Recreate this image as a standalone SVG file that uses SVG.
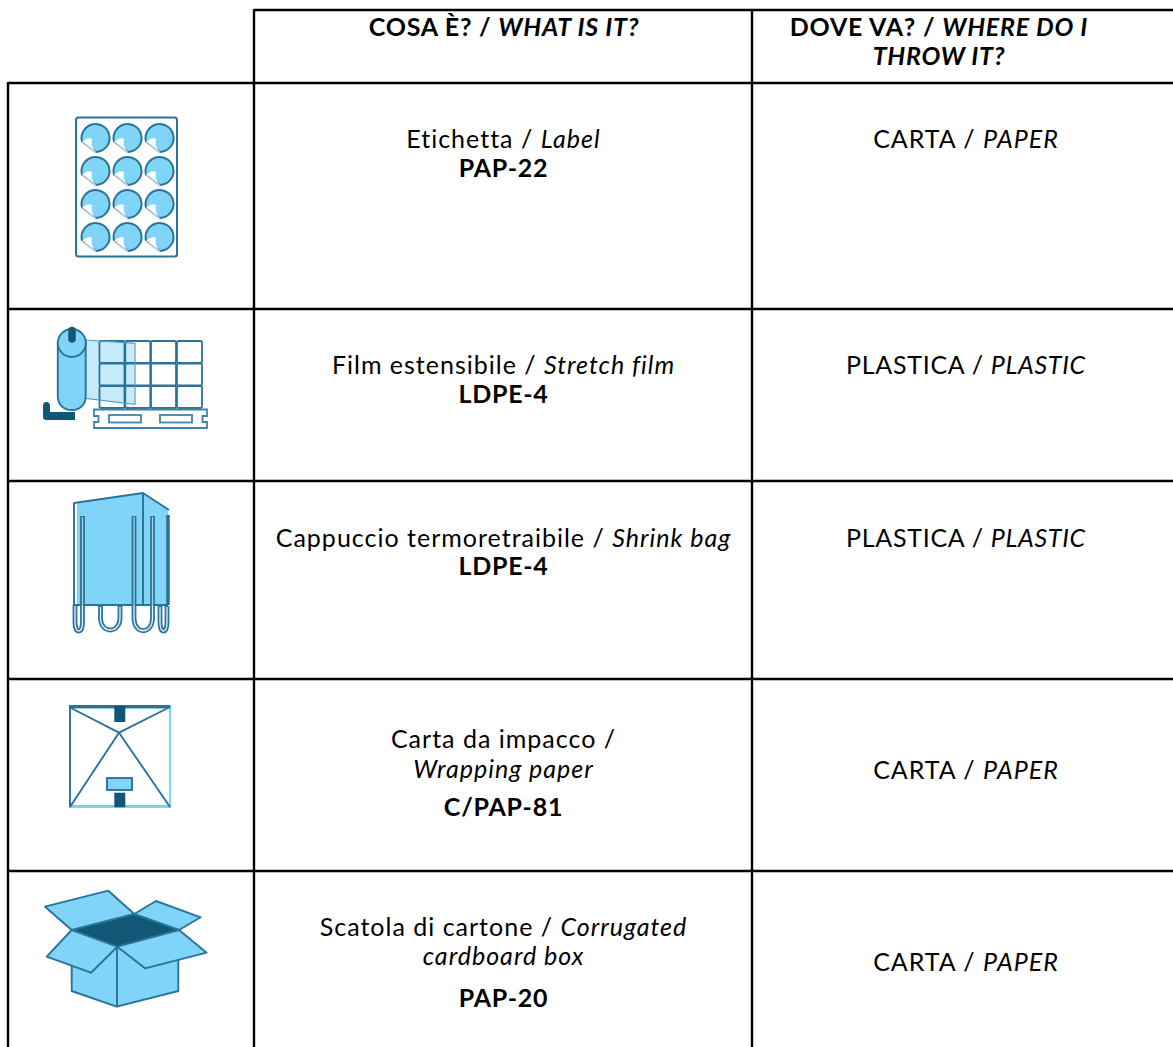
<svg xmlns="http://www.w3.org/2000/svg" xmlns:xlink="http://www.w3.org/1999/xlink" width="1173" height="1047" viewBox="0 0 1173 1047">
<style>
text{font-family:"Lato","Liberation Sans",sans-serif;font-size:25px;fill:#000;text-anchor:middle;letter-spacing:1px}
.b{font-weight:700;letter-spacing:.75px}
.i{font-style:italic}
.p{letter-spacing:.7px}
.grid{stroke:#000;stroke-width:2.4;fill:none}
.o{stroke:#2a7399;stroke-width:1.9;stroke-linejoin:round;fill:#7fd4f8}
.d{fill:#135777}
</style>
<defs>
<g id="sticker">
<path d="M-13,3.500A14,14 0 1 1 1,14 Z" fill="#7fd4f8" stroke="#2a7399" stroke-width="2"/>
<path d="M-13,3.500Q-6,-1.500 -3,1Q-5,8 1,14.500Z" fill="#fff"/>
<path d="M-13,3.500L1,14.500" stroke="#b4cddb" stroke-width="1.400"/>
</g>
<rect id="cell" width="25" height="22" rx="1.500" fill="none" stroke="#2a7399" stroke-width="1.800"/>
</defs>
<rect width="1173" height="1047" fill="#fff"/>
<g id="connectors" class="grid">
<path d="M254,10H1173M8,83H1173M8,309H1173M8,481H1173M8,679H1173M8,871H1173"/>
<path d="M8,82V1047M254,9V1047M752,9V1047"/>
</g>
<g id="header">
<text x="504" y="36" class="b">COSA È? / <tspan class="i">WHAT IS IT?</tspan></text>
<text x="939" y="36" class="b">DOVE VA? / <tspan class="i">WHERE DO I</tspan></text>
<text x="939" y="65" class="b i">THROW IT?</text>
</g>
<g id="icon-label">
<rect x="76" y="117.500" width="101" height="139" rx="2.500" fill="#fff" stroke="#2a7399" stroke-width="2"/>
<use xlink:href="#sticker" x="95" y="138"/><use xlink:href="#sticker" x="127" y="138"/><use xlink:href="#sticker" x="159" y="138"/>
<use xlink:href="#sticker" x="95" y="171"/><use xlink:href="#sticker" x="127" y="171"/><use xlink:href="#sticker" x="159" y="171"/>
<use xlink:href="#sticker" x="95" y="204"/><use xlink:href="#sticker" x="127" y="204"/><use xlink:href="#sticker" x="159" y="204"/>
<use xlink:href="#sticker" x="95" y="237"/><use xlink:href="#sticker" x="127" y="237"/><use xlink:href="#sticker" x="159" y="237"/>
</g>
<g id="icon-film">
<path d="M85.700,340L135,343.300V404.300L85.700,398.300Z" fill="#c5ebfc"/>
<use xlink:href="#cell" x="99.500" y="341"/><use xlink:href="#cell" x="125.300" y="341"/><use xlink:href="#cell" x="151" y="341"/><use xlink:href="#cell" x="177" y="341"/>
<use xlink:href="#cell" x="99.500" y="363.500"/><use xlink:href="#cell" x="125.300" y="363.500"/><use xlink:href="#cell" x="151" y="363.500"/><use xlink:href="#cell" x="177" y="363.500"/>
<use xlink:href="#cell" x="99.500" y="386"/><use xlink:href="#cell" x="125.300" y="386"/><use xlink:href="#cell" x="151" y="386"/><use xlink:href="#cell" x="177" y="386"/>
<path d="M85.700,340L135,343.300V404.300L85.700,398.300" fill="none" stroke="#5d9dbd" stroke-width="1.200"/>
<path d="M94,409.500H207V416H202.500V422H207V428H94V422H98.500V416H94Z" fill="#fff" stroke="#3d84a8" stroke-width="1.800"/>
<rect x="109" y="415" width="32" height="7.500" fill="#fff" stroke="#3d84a8" stroke-width="1.800"/>
<rect x="160" y="415" width="32" height="7.500" fill="#fff" stroke="#3d84a8" stroke-width="1.800"/>
<path d="M43,406Q43,402 46.500,402Q50,402 50,406V412H75V420H46Q43,420 43,417Z" class="d"/>
<path d="M57.800,342V396C57.800,405 64,410 71.800,410S85.700,405 85.700,396V342Z" class="o"/>
<ellipse cx="71.800" cy="343" rx="14" ry="14" fill="#7fd4f8" stroke="#2a7399" stroke-width="1.900"/>
<path d="M72,330.500V339" stroke="#135777" stroke-width="7.500" stroke-linecap="round" fill="none"/>
</g>
<g id="icon-bag">
<path d="M77,503L143,493L168,510V605L77,604Z" fill="#7fd4f8"/>
<path d="M74,605V503L143,493L169,510M143,493V605M74,605H168" fill="none" stroke="#2a7399" stroke-width="1.900" stroke-linejoin="round"/>
<path d="M168,515V605" stroke="#2a6f93" stroke-width="3.500" fill="none"/>
<g fill="none" stroke-linecap="butt">
<g stroke="#2a7399" stroke-width="4.800">
<path d="M75,605V622C75,634 82.500,634 82.500,622V516"/>
<path d="M100.500,606V618C100.500,634 120,634 120,618V606"/>
<path d="M134,516V618C134,635 152.500,635 152.500,618V516"/>
<path d="M160,606V622C160,634 167,634 167,622V606"/>
</g>
<g stroke="#e4f3fa" stroke-width="1.300">
<path d="M75,606V622C75,634 82.500,634 82.500,622V606"/>
<path d="M100.500,607V618C100.500,634 120,634 120,618V607"/>
<path d="M134,606V618C134,635 152.500,635 152.500,618V606"/>
<path d="M160,607V622C160,634 167,634 167,622V607"/>
</g>
<path d="M82.500,517V606M134,517V606M152.500,517V606" stroke="#a9cfe2" stroke-width="1.300"/>
</g>
</g>
<g id="icon-wrap">
<rect x="70" y="707.500" width="100" height="99" fill="#fff" stroke="#2a7399" stroke-width="1.900"/>
<path d="M170,707V807H70" fill="none" stroke="#7fd4f8" stroke-width="2.200"/>
<path d="M69,706.500H170.500" stroke="#2a7399" stroke-width="3.200"/>
<path d="M69,707L119,732.700L170,707M70,807L119,732.700L170,807" fill="none" stroke="#2a7399" stroke-width="1.900"/>
<rect x="114.300" y="706" width="11" height="16" class="d"/>
<rect x="114.300" y="792.700" width="11" height="14.500" class="d"/>
<rect x="107" y="778" width="25" height="12" fill="#7fd4f8" stroke="#2a7399" stroke-width="1.900"/>
</g>
<g id="icon-box">
<path d="M71.700,960V991L116.700,1006.700L178.300,991V960L117.300,946.700Z" class="o"/>
<path d="M117,946.700V1006.700" stroke="#2a7399" stroke-width="1.900"/>
<path d="M71.700,930L134.300,914L179,930L117.300,946.700Z" fill="#135777"/>
<path d="M71.700,930L45,906.700L108.300,890.700L134.300,914Z" class="o"/>
<path d="M134.300,914L156,901L200.700,917.300L179,930Z" class="o"/>
<path d="M71.700,930L46.700,956.700L91,972.700L117.300,946.700Z" class="o"/>
<path d="M117.300,946.700L145,968.300L206.700,952.700L179,930Z" class="o"/>
</g>
<g id="row-1">
<text x="503.500" y="148">Etichetta / <tspan class="i">Label</tspan></text>
<text x="503.500" y="177" class="b">PAP-22</text>
<text x="966" y="148">CARTA / <tspan class="i">PAPER</tspan></text>
</g>
<g id="row-2">
<text x="503.500" y="374">Film estensibile / <tspan class="i">Stretch film</tspan></text>
<text x="503.500" y="403" class="b">LDPE-4</text>
<text x="966" y="374" class="p">PLASTICA / <tspan class="i">PLASTIC</tspan></text>
</g>
<g id="row-3">
<text x="503.500" y="547">Cappuccio termoretraibile / <tspan class="i">Shrink bag</tspan></text>
<text x="503.500" y="575" class="b">LDPE-4</text>
<text x="966" y="547" class="p">PLASTICA / <tspan class="i">PLASTIC</tspan></text>
</g>
<g id="row-4">
<text x="503.500" y="748">Carta da impacco /</text>
<text x="503.500" y="778" class="i">Wrapping paper</text>
<text x="503.500" y="816" class="b">C/PAP-81</text>
<text x="966" y="779">CARTA / <tspan class="i">PAPER</tspan></text>
</g>
<g id="row-5">
<text x="503.500" y="936">Scatola di cartone / <tspan class="i">Corrugated</tspan></text>
<text x="503.500" y="965" class="i">cardboard box</text>
<text x="503.500" y="1007" class="b">PAP-20</text>
<text x="966" y="971">CARTA / <tspan class="i">PAPER</tspan></text>
</g>
</svg>
